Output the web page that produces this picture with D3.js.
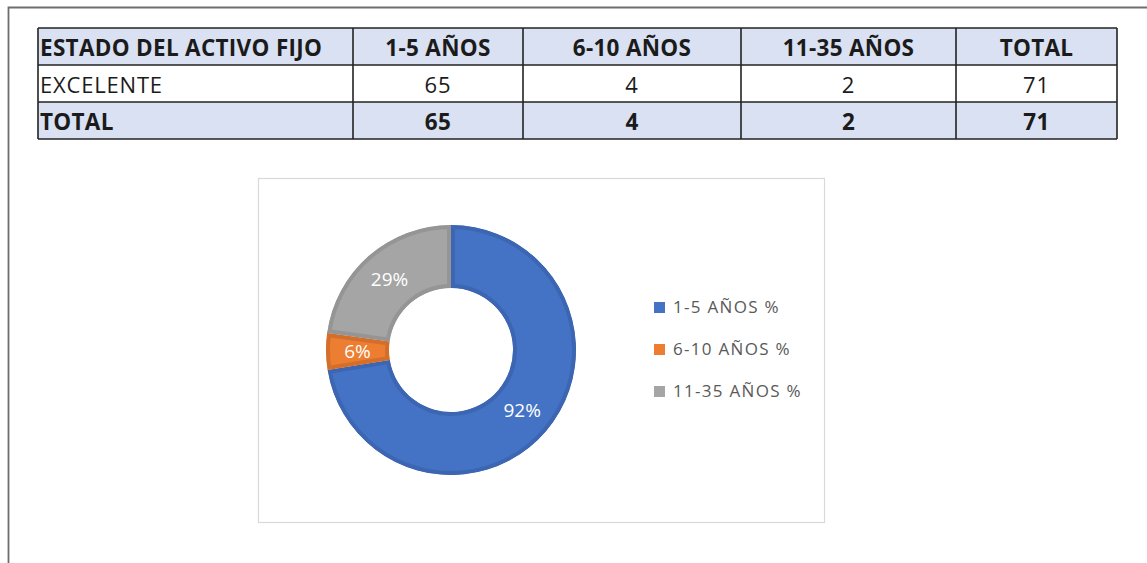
<!DOCTYPE html>
<html>
<head>
<meta charset="utf-8">
<script src="https://cdn.jsdelivr.net/npm/d3@7"></script>
<style>
  body { margin: 0; background: #fff; }
  svg { display: block; }
</style>
</head>
<body>
<div id="chart"></div>
<script>
// table data
const headers = ['ESTADO DEL ACTIVO FIJO', '1-5 AÑOS', '6-10 AÑOS', '11-35 AÑOS', 'TOTAL'];
const rowLabels = ['EXCELENTE', 'TOTAL'];
const rowValues = [
  [65, 4, 2, 71],
  [65, 4, 2, 71]
];

// donut data
const categories = ['1-5 AÑOS %', '6-10 AÑOS %', '11-35 AÑOS %'];
const values = [92, 6, 29];
const colors = ['#4472C4', '#ED7D31', '#A5A5A5'];
const edgeColors = ['#3C66B2', '#D46F2B', '#959595'];

const W = 1147, H = 563;
const svg = d3.select('#chart').append('svg').attr('width', W).attr('height', H);
const font = '"Open Sans", sans-serif';

// page frame
svg.append('path')
  .attr('d', 'M8.5,' + H + ' L8.5,7.5 L' + W + ',7.5')
  .attr('fill', 'none').attr('stroke', '#6e6e6e').attr('stroke-width', 1.8);

// table
const colEdges = [38, 353, 523, 741, 956, 1117];
const rowTop = 28, rowH = 37;
const table = svg.append('g');

const rows = [headers].concat(rowLabels.map((l, i) => [l].concat(rowValues[i])));
rows.forEach(function (r, ri) {
  const y = rowTop + ri * rowH;
  const bold = ri !== 1;
  table.append('rect')
    .attr('x', colEdges[0]).attr('y', y)
    .attr('width', colEdges[5] - colEdges[0]).attr('height', rowH)
    .attr('fill', bold ? '#D9E1F2' : '#fff');
  r.forEach(function (v, ci) {
    const left = ci === 0;
    table.append('text')
      .attr('x', left ? colEdges[0] + 2 : (colEdges[ci] + colEdges[ci + 1]) / 2)
      .attr('y', y + 28)
      .attr('text-anchor', left ? 'start' : 'middle')
      .attr('font-family', font)
      .attr('font-size', bold ? 22.5 : 22)
      .attr('font-weight', bold ? 'bold' : 'normal')
      .attr('letter-spacing', bold ? 0.3 : 0.8)
      .attr('fill', '#1b1b1b')
      .text(v);
  });
});
// grid lines
for (let i = 0; i <= rows.length; i++) {
  table.append('line')
    .attr('x1', colEdges[0]).attr('x2', colEdges[5])
    .attr('y1', rowTop + i * rowH).attr('y2', rowTop + i * rowH)
    .attr('stroke', '#222').attr('stroke-width', 1.6);
}
colEdges.forEach(function (cx) {
  table.append('line')
    .attr('x1', cx).attr('x2', cx)
    .attr('y1', rowTop).attr('y2', rowTop + rows.length * rowH)
    .attr('stroke', '#222').attr('stroke-width', 1.6);
});

// chart box
svg.append('rect')
  .attr('x', 258.5).attr('y', 178.5).attr('width', 566).attr('height', 344)
  .attr('fill', '#fff').attr('stroke', '#d9d9d9').attr('stroke-width', 1.2);

const cx = 451, cy = 350, rOut = 125, rIn = 62;
const pie = d3.pie().sort(null).value((d) => d);
const arc = d3.arc().innerRadius(rIn).outerRadius(rOut);
const arcs = pie(values);

const donut = svg.append('g').attr('transform', 'translate(' + cx + ',' + cy + ')');
const defs = svg.append('defs');

arcs.forEach(function (a, i) {
  defs.append('clipPath').attr('id', 'clip' + i)
    .append('path').attr('d', arc(a));
  donut.append('path')
    .attr('d', arc(a))
    .attr('fill', colors[i])
    .attr('stroke', edgeColors[i])
    .attr('stroke-width', 8)
    .attr('clip-path', 'url(#clip' + i + ')');
});

donut.selectAll('text.lbl')
  .data(arcs)
  .enter()
  .append('text')
  .attr('class', 'lbl')
  .attr('transform', (d) => 'translate(' + arc.centroid(d) + ')')
  .attr('dy', '0.36em')
  .attr('text-anchor', 'middle')
  .attr('font-family', font)
  .attr('font-size', 19)
  .attr('fill', '#fff')
  .text((d) => d.value + '%');

// legend
const ly = d3.scalePoint().domain(categories).range([307, 391]);
const legend = svg.append('g');
categories.forEach(function (c, i) {
  legend.append('rect')
    .attr('x', 654).attr('y', ly(c) - 5)
    .attr('width', 11).attr('height', 11)
    .attr('fill', colors[i]);
  legend.append('text')
    .attr('x', 673).attr('y', ly(c))
    .attr('dy', '0.38em')
    .attr('font-family', font)
    .attr('font-size', 17)
    .attr('letter-spacing', 1.3)
    .attr('fill', '#595959')
    .text(c);
});
</script>
</body>
</html>
